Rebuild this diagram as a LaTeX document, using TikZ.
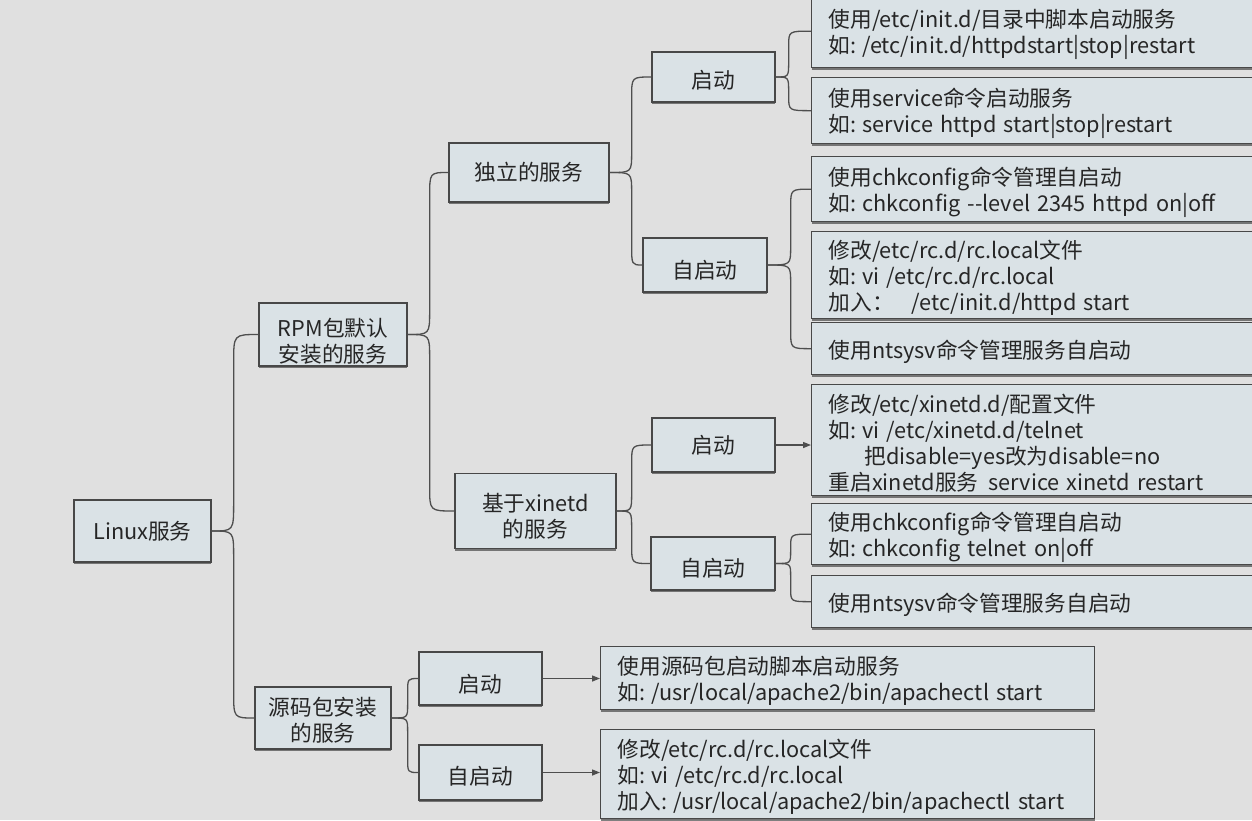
\documentclass[tikz,border=0pt]{standalone}
\usepackage{fontspec}
\setmainfont{Noto Sans CJK SC}
\usetikzlibrary{arrows.meta,calc,shadows}

\definecolor{bg}{RGB}{224,224,224}
\definecolor{boxfill}{RGB}{218,226,230}
\definecolor{edge}{RGB}{72,72,72}
\definecolor{wire}{RGB}{78,78,78}
\definecolor{ink}{RGB}{38,38,38}

\tikzset{
  branchx/.store in=\branchdx, branchx=20,
  branchr/.store in=\branchrad, branchr=20,
}
% tall invisible strut that lowers a text block inside its box
\newcommand{\dropby}[1]{\rule{0pt}{#1}}
% "如:" style lead-in with a fixed gap after the colon
\newcommand{\lead}[1]{#1:\hspace{6pt}}

\begin{document}
\begin{tikzpicture}[x=1pt,y=-1pt,
  box/.style={draw=edge, line width=1.3pt, fill=boxfill, text=ink,
    font=\fontsize{21.7}{26}\selectfont, inner sep=0pt,
    drop shadow={shadow xshift=0pt, shadow yshift=-2pt, fill=edge, opacity=0.7}},
  topic/.style={box, align=center},
  note/.style={box, anchor=north west, align=left, inner xsep=17pt, inner ysep=0pt},
  % curly branch: out of the parent, along a vertical spine, into the child
  brace/.style={draw=wire, line width=1.3pt,
    to path={let \p1=(\tikztostart), \p2=(\tikztotarget),
      \n1={sign(\y2-\y1)*\branchrad}, \n2={\x1+\branchdx*1pt} in
      .. controls ({\n2*1pt},\y1) .. ({\n2*1pt},{\y1+\n1*1pt})
      -- ({\n2*1pt},{\y2-\n1*1pt})
      .. controls ({\n2*1pt},\y2) .. (\tikztotarget)}},
  pointer/.style={draw=wire, line width=1.3pt, -{Triangle[length=8pt,width=6pt]}},
]
\useasboundingbox (0,0) rectangle (1252,820);
\clip (0,0) rectangle (1252,820);
\fill[bg] (0,0) rectangle (1252,820);

% tree of topics
\node[topic, minimum width=137pt, minimum height=62pt] (linux) at (142.5,531) {Linux服务};
\node[topic, minimum width=148pt, minimum height=63pt] (rpm) at (333,334.5) {\dropby{32pt}RPM包默认\\安装的服务};
\node[topic, minimum width=160pt, minimum height=59pt] (indep) at (529,172.5) {独立的服务};
\node[topic, minimum width=123pt, minimum height=50pt] (s1) at (713.5,77) {\dropby{24.5pt}启动};
\node[topic, minimum width=124pt, minimum height=54pt] (s2) at (705,265) {\dropby{29pt}自启动};
\node[topic, minimum width=161pt, minimum height=75pt] (xin) at (535.5,511) {\dropby{28pt}基于xinetd\\的服务};
\node[topic, minimum width=123pt, minimum height=54pt] (x1) at (713.5,445) {启动};
\node[topic, minimum width=124pt, minimum height=53pt] (x2) at (713,563.5) {\dropby{28pt}自启动};
\node[topic, minimum width=136pt, minimum height=62pt] (src) at (323,718) {\dropby{22.5pt}源码包安装\\的服务};
\node[topic, minimum width=123pt, minimum height=53pt] (r1) at (480.5,678.5) {\dropby{30pt}启动};
\node[topic, minimum width=123pt, minimum height=55pt] (r2) at (480.5,772.5) {\dropby{26pt}自启动};

% detail notes
\node[note, text width=426pt, minimum height=73pt] (a1) at (811,-6)
  {\dropby{24.5pt}使用/etc/init.d/目录中脚本启动服务\\\lead{如}/etc/init.d/httpdstart|stop|restart};
\node[note, text width=426pt, minimum height=66pt] (a2) at (811,77)
  {\dropby{24.5pt}使用service命令启动服务\\\lead{如}service httpd start|stop|restart};
\node[note, text width=426pt, minimum height=65pt] (b1) at (811,156)
  {\dropby{24.5pt}使用chkconfig命令管理自启动\\\lead{如}chkconfig -{}-level 2345 httpd on|off};
\node[note, text width=426pt, minimum height=87pt] (b2) at (811,231)
  {\dropby{24.5pt}修改/etc/rc.d/rc.local文件\\\lead{如}vi /etc/rc.d/rc.local\\加入：\hspace{18pt}/etc/init.d/httpd start};
\node[note, text width=426pt, minimum height=52pt] (b3) at (811,322)
  {\dropby{24.5pt}使用ntsysv命令管理服务自启动};
\node[note, text width=426pt, minimum height=111pt] (c1) at (811,384)
  {\dropby{24.5pt}修改/etc/xinetd.d/配置文件\\\lead{如}vi /etc/xinetd.d/telnet\\\hspace*{36pt}把disable=yes改为disable=no\\重启xinetd服务\hspace{10pt}service xinetd restart};
\node[note, text width=426pt, minimum height=61pt] (d1) at (811,503)
  {\dropby{24.5pt}使用chkconfig命令管理自启动\\\lead{如}chkconfig telnet on|off};
\node[note, text width=426pt, minimum height=52pt] (d2) at (811,575)
  {\dropby{24.5pt}使用ntsysv命令管理服务自启动};
\node[note, text width=460pt, minimum height=63pt] (e1) at (600,646)
  {\dropby{24.5pt}使用源码包启动脚本启动服务\\\lead{如}/usr/local/apache2/bin/apachectl start};
\node[note, text width=460pt, minimum height=89pt] (e2) at (600,729)
  {\dropby{24.5pt}修改/etc/rc.d/rc.local文件\\\lead{如}vi /etc/rc.d/rc.local\\\lead{加入}/usr/local/apache2/bin/apachectl start};

% branches
\draw[brace, branchx=22, branchr=28] (linux.east) to (rpm.west);
\draw[brace, branchx=22, branchr=26] (linux.east) to (src.west);
\draw[brace, branchx=22, branchr=24] (rpm.east) to (indep.west);
\draw[brace, branchx=22, branchr=24] (rpm.east) to (xin.west);
\draw[brace, branchx=22, branchr=20] (indep.east) to (s1.west);
\draw[brace, branchx=22, branchr=20] (indep.east) to (s2.west);
\draw[brace, branchx=13, branchr=15] (s1.east) to (a1.west);
\draw[brace, branchx=13, branchr=15] (s1.east) to (a2.west);
\draw[brace, branchx=23, branchr=18] (s2.east) to (b1.west);
\draw[brace, branchx=23, branchr=18] (s2.east) to (b3.west);
\draw[brace, branchx=15, branchr=18] (xin.east) to (x1.west);
\draw[brace, branchx=15, branchr=18] (xin.east) to (x2.west);
\draw[brace, branchx=15, branchr=13] (x2.east) to (d1.west);
\draw[brace, branchx=15, branchr=13] (x2.east) to (d2.west);
\draw[brace, branchx=16, branchr=14] (src.east) to (r1.west);
\draw[brace, branchx=16, branchr=14] (src.east) to (r2.west);

% direct pointers
\draw[pointer] (x1.east) -- (x1.east -| c1.west);
\draw[pointer] (r1.east) -- (r1.east -| e1.west);
\draw[pointer] (r2.east) -- (r2.east -| e2.west);
\end{tikzpicture}
\end{document}
